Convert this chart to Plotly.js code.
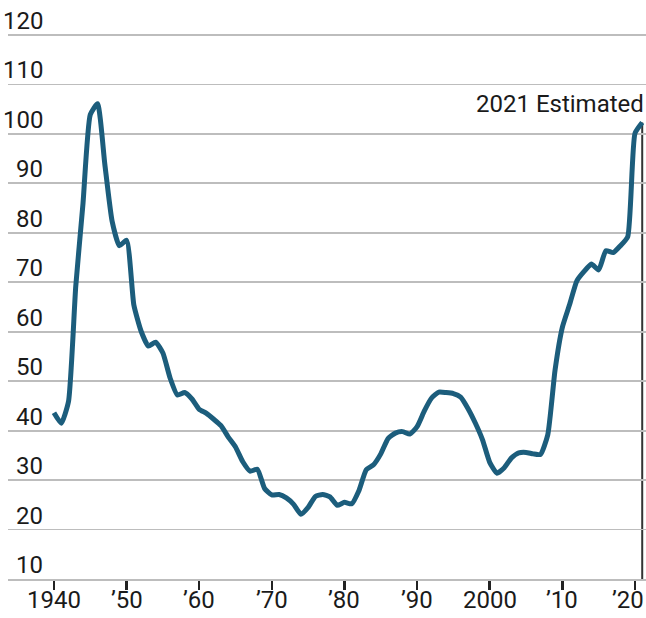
<!DOCTYPE html>
<html>
<head>
<meta charset="utf-8">
<script src="https://cdn.plot.ly/plotly-3.0.1.min.js"></script>
<style>html,body{margin:0;padding:0;background:#fff;}#chart{width:646px;height:618px;}</style>
</head>
<body>
<div id="chart"></div>
<script>
// Federal debt held by the public, % of GDP
const years = [1940,1941,1942,1943,1944,1945,1946,1947,1948,1949,
  1950,1951,1952,1953,1954,1955,1956,1957,1958,1959,
  1960,1961,1962,1963,1964,1965,1966,1967,1968,1969,
  1970,1971,1972,1973,1974,1975,1976,1977,1978,1979,
  1980,1981,1982,1983,1984,1985,1986,1987,1988,1989,
  1990,1991,1992,1993,1994,1995,1996,1997,1998,1999,
  2000,2001,2002,2003,2004,2005,2006,2007,2008,2009,
  2010,2011,2012,2013,2014,2015,2016,2017,2018,2019,
  2020,2021];
const debtPct = [43.6,41.5,45.9,69.2,86.0,103.9,106.1,93.9,82.4,77.4,
  78.5,65.4,60.1,57.1,57.9,55.7,50.6,47.2,47.7,46.4,
  44.3,43.5,42.3,41.0,38.7,36.7,33.7,31.8,32.2,28.3,
  27.0,27.1,26.4,25.1,23.1,24.5,26.7,27.1,26.6,24.9,
  25.5,25.2,27.9,32.1,33.1,35.3,38.4,39.5,39.8,39.3,
  40.8,44.0,46.6,47.8,47.7,47.5,46.8,44.5,41.6,38.2,
  33.6,31.4,32.5,34.5,35.5,35.6,35.3,35.2,39.2,52.3,
  60.9,65.5,70.3,72.2,73.7,72.5,76.4,76.0,77.4,79.2,
  100.1,102.3];
const yTickVals = [10,20,30,40,50,60,70,80,90,100,110,120];
const xTickVals = [1940,1950,1960,1970,1980,1990,2000,2010,2020];
const xTickText = ['1940','\u201950','\u201960','\u201970','\u201980','\u201990','2000','\u201910','\u201920'];
const endLabel = '2021 Estimated';

const FONT = 'Roboto, sans-serif';
const TXT = '#1a1a1a';
const lastX = years[years.length-1];
const lastY = debtPct[debtPct.length-1];

const trace = {
  x: years, y: debtPct, type: 'scatter', mode: 'lines',
  line: {color: '#1c5d7c', width: 5, shape: 'spline', smoothing: 0.5},
  hoverinfo: 'skip'
};

const annotations = yTickVals.map(v => ({
  xref: 'paper', yref: 'y', x: 0.058, y: v,
  xanchor: 'right', yanchor: 'bottom', yshift: -2,
  text: String(v), showarrow: false,
  font: {family: FONT, size: 24, color: TXT}
}));
xTickVals.forEach((v, i) => {
  const isLast = i === xTickVals.length - 1;
  annotations.push({
    xref: 'x', yref: 'paper', x: v, y: 0,
    xanchor: isLast ? 'right' : 'center', xshift: isLast ? 11 : 0,
    yanchor: 'top', yshift: -5,
    text: xTickText[i], showarrow: false,
    font: {family: FONT, size: 24, color: TXT}
  });
});
annotations.push({
  xref: 'x', yref: 'y', x: lastX, y: lastY,
  xanchor: 'right', yanchor: 'bottom', xshift: 4, yshift: 3,
  text: endLabel, showarrow: false,
  font: {family: FONT, size: 24, color: TXT}
});

const layout = {
  width: 646, height: 618,
  margin: {l: 8, r: 0, t: 20, b: 39},
  paper_bgcolor: '#fff', plot_bgcolor: '#fff',
  showlegend: false,
  xaxis: {
    range: [1933.67, 2021.52], tickvals: xTickVals, showticklabels: false,
    ticks: 'outside', ticklen: 9, tickwidth: 2.5, tickcolor: '#222',
    showgrid: false, zeroline: false, showline: true, linecolor: '#bdbdbd', linewidth: 2,
    fixedrange: true
  },
  yaxis: {
    range: [10, 123.04], tickvals: yTickVals, showticklabels: false,
    showgrid: true, gridcolor: '#bdbdbd', gridwidth: 1.8, zeroline: false, fixedrange: true
  },
  shapes: [{
    type: 'line', xref: 'x', yref: 'y', x0: lastX, x1: lastX, y0: 10, y1: lastY,
    line: {color: '#333', width: 2}, layer: 'below'
  }],
  annotations: annotations
};

Plotly.newPlot('chart', [trace], layout, {displayModeBar: false, staticPlot: true});
</script>
</body>
</html>
